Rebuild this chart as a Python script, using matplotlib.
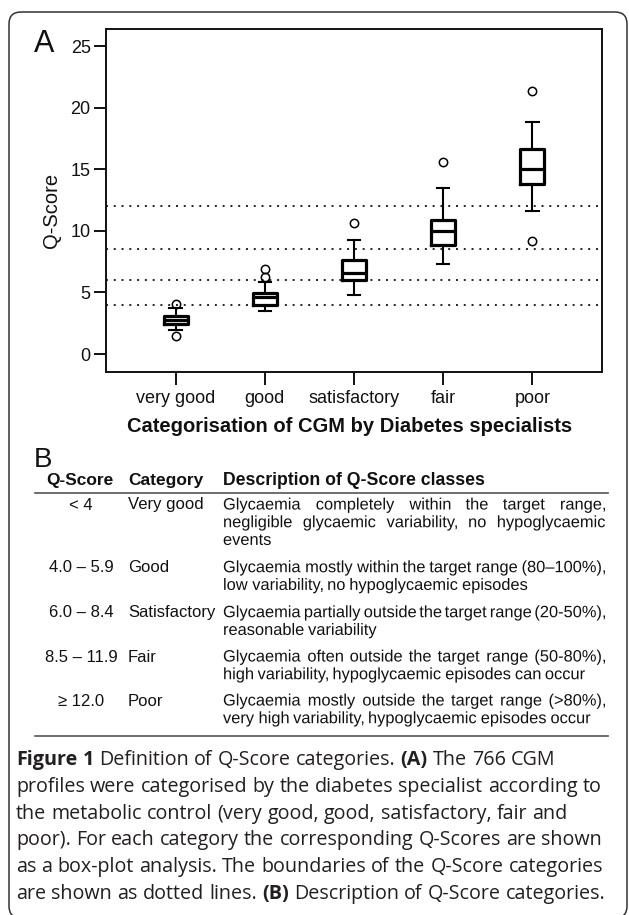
import matplotlib
matplotlib.use('Agg')
import matplotlib.pyplot as plt
from matplotlib.patches import FancyBboxPatch, PathPatch
from matplotlib.lines import Line2D
from matplotlib.transforms import IdentityTransform, Affine2D
from matplotlib.textpath import TextPath
from matplotlib.font_manager import FontProperties

# ---- data ----
categories = ['very good', 'good', 'satisfactory', 'fair', 'poor']
q1 = [2.43, 4.0, 6.0, 8.86, 13.84]
medians = [2.78, 4.6, 6.62, 10.0, 15.0]
q3 = [3.1, 4.95, 7.67, 10.87, 16.65]
whis_lo = [1.92, 3.51, 4.81, 7.35, 11.6]
whis_hi = [3.73, 5.81, 9.3, 13.49, 18.87]
outliers = [[1.48, 4.08], [6.24, 6.9], [10.62], [15.6], [9.2, 21.4]]
boundaries = [4.0, 6.0, 8.5, 12.0]
yticks = [0, 5, 10, 15, 20, 25]

table_header = ['Q-Score', 'Category', 'Description of Q-Score classes']
q_ranges = ['< 4', '4.0 \u2013 5.9', '6.0 \u2013 8.4', '8.5 \u2013 11.9', '\u2265 12.0']
class_names = ['Very good', 'Good', 'Satisfactory', 'Fair', 'Poor']
descriptions = [
    ['Glycaemia completely within the target range,',
     'negligible glycaemic variability, no hypoglycaemic',
     'events'],
    ['Glycaemia mostly within the target range (80\u2013100%),',
     'low variability, no hypoglycaemic episodes'],
    ['Glycaemia partially outside the target range (20-50%),',
     'reasonable variability'],
    ['Glycaemia often outside the target range (50-80%),',
     'high variability, hypoglycaemic episodes can occur'],
    ['Glycaemia mostly outside the target range (>80%),',
     'very high variability, hypoglycaemic episodes occur'],
]

caption = [
    '**Figure 1** Definition of Q-Score categories. **(A)** The 766 CGM',
    'profiles were categorised by the diabetes specialist according to',
    'the metabolic control (very good, good, satisfactory, fair and',
    'poor). For each category the corresponding Q-Scores are shown',
    'as a box-plot analysis. The boundaries of the Q-Score categories',
    'are shown as dotted lines. **(B)** Description of Q-Score categories.',
]

W, H = 629, 915
plt.rcParams['font.family'] = ['Liberation Sans', 'DejaVu Sans']
fig = plt.figure(figsize=(W / 100, H / 100), dpi=100, facecolor='white')
renderer = fig.canvas.get_renderer()
INK = '#111111'
CAP_FONT = ['Open Sans', 'DejaVu Sans']
TABLE_PROP = FontProperties(family='Liberation Sans')


def fx(x):
    return x / W


def fy(y):
    return 1 - y / H


def text_width(t):
    return t.get_window_extent(renderer=renderer).width


def measure(s, size, family, weight='normal'):
    t = fig.text(0, 0, s, fontsize=size, family=family, fontweight=weight)
    w = text_width(t)
    t.remove()
    return w


def path_width(s, size_px):
    return TextPath((0, 0), s, size=size_px, prop=TABLE_PROP).get_extents().x1


def place_words(words, x0, y, size, family, color=INK):
    # ragged-right line of (word, bold) pieces
    texts = []
    for w, bold in words:
        t = fig.text(fx(x0), fy(y), w, fontsize=size, family=family,
                     fontweight='bold' if bold else 'normal',
                     ha='left', va='baseline', color=color)
        texts.append(t)
    widths = [text_width(t) for t in texts]
    space = measure('a a', size, family) - measure('aa', size, family)
    x = x0
    for t, w in zip(texts, widths):
        t.set_x(fx(x))
        x += w + space


def path_line(line, x0, y, size_px, x1=None):
    # words drawn as glyph paths so a justified line keeps one baseline
    words = line.split()
    paths = [TextPath((0, 0), w, size=size_px, prop=TABLE_PROP) for w in words]
    widths = [p.get_extents().x1 for p in paths]
    gap = path_width('a a', size_px) - path_width('aa', size_px)
    if x1 is not None and len(words) > 1:
        gap = (x1 - x0 - sum(widths)) / (len(words) - 1)
    x = x0
    for p, w in zip(paths, widths):
        patch = PathPatch(p, transform=Affine2D().translate(x, H - y),
                          facecolor=INK, edgecolor='none', linewidth=0)
        fig.add_artist(patch)
        x += w + gap


def parse_bold(line):
    out = []
    for i, seg in enumerate(line.split('**')):
        for w in seg.split():
            out.append((w, i % 2 == 1))
    return out


# ---- card frame ----
frame = FancyBboxPatch((9, H - 918), 618, 906,
                       boxstyle='round,pad=0,rounding_size=12',
                       transform=IdentityTransform(), facecolor='none',
                       edgecolor='#333333', linewidth=1.1)
fig.add_artist(frame)

# ---- panel A: box plot ----
ax = fig.add_axes([fx(106), fy(372), fx(602) - fx(106), fy(29) - fy(372)])
stats = []
for c, a, m, b, lo, hi, fl in zip(categories, q1, medians, q3, whis_lo, whis_hi, outliers):
    stats.append(dict(label=c, q1=a, med=m, q3=b, whislo=lo, whishi=hi, fliers=fl))

ax.bxp(stats, positions=range(1, len(categories) + 1), widths=0.27, capwidths=0.14,
       boxprops=dict(linewidth=2.3, color='black'),
       medianprops=dict(linewidth=2.3, color='black'),
       whiskerprops=dict(linewidth=1.5, color='black'),
       capprops=dict(linewidth=1.5, color='black'),
       flierprops=dict(marker='o', markerfacecolor='none', markeredgecolor='black',
                       markersize=6, markeredgewidth=1.1))

for b in boundaries:
    ax.axhline(b, color='#222222', linewidth=1.4, linestyle=(0, (1, 3)), zorder=0)

ax.set_xlim(0.22, 5.78)
ax.set_ylim(-1.46, 26.4)
ax.set_yticks(yticks)
ax.tick_params(axis='both', length=9, width=1.4, labelsize=13, colors=INK)
ax.tick_params(axis='y', pad=2)
ax.tick_params(axis='x', pad=4)
for s in ax.spines.values():
    s.set_linewidth(1.4)
    s.set_color('#111111')

fig.text(fx(52), fy(210), 'Q-Score', rotation=90, fontsize=14.5,
         ha='center', va='center', color=INK)
fig.text(fx(350), fy(427), 'Categorisation of CGM by Diabetes specialists',
         fontsize=14.5, fontweight='bold', ha='center', va='center', color=INK)
fig.text(fx(34), fy(52), 'A', fontsize=22, ha='left', va='baseline', color=INK)

# ---- panel B: table ----
fig.text(fx(34), fy(467), 'B', fontsize=20, ha='left', va='baseline', color=INK)
hdr_y = 485
fig.text(fx(80), fy(hdr_y), table_header[0], fontsize=12.5, fontweight='bold',
         ha='center', va='baseline', color=INK)
fig.text(fx(128), fy(hdr_y), table_header[1], fontsize=12.5, fontweight='bold',
         ha='left', va='baseline', color=INK)
fig.text(fx(223), fy(hdr_y), table_header[2], fontsize=12.7, fontweight='bold',
         ha='left', va='baseline', color=INK)

fig.add_artist(Line2D([fx(35), fx(608)], [fy(492.7)] * 2, transform=fig.transFigure,
                      color='#555555', linewidth=1.2))
fig.add_artist(Line2D([fx(35), fx(608)], [fy(735.5)] * 2, transform=fig.transFigure,
                      color='#555555', linewidth=1.2))

# description font sized so the longest natural line spans the column (223..605)
desc_x0, desc_x1 = 223, 605
ref_words = descriptions[1][0].split()
ref_w = sum(path_width(w, 16.0) for w in ref_words) + \
    (len(ref_words) - 1) * (path_width('a a', 16.0) - path_width('aa', 16.0))
desc_px = 16.0 * (desc_x1 - desc_x0) / ref_w

row_y = [509.5, 572.2, 617.2, 661.5, 705.5]
line_step = 17.7
for qr, cn, desc, y in zip(q_ranges, class_names, descriptions, row_y):
    fig.text(fx(81), fy(y), qr, fontsize=12.0, ha='center', va='baseline', color=INK)
    fig.text(fx(128), fy(y), cn, fontsize=12.0, ha='left', va='baseline', color=INK)
    for k, line in enumerate(desc):
        last = k == len(desc) - 1
        path_line(line, desc_x0, y + k * line_step, desc_px,
                  x1=None if last else desc_x1)

# ---- caption ----
cap_x0 = 16
cap_size = 12.8 * 588 / measure(caption[4], 12.8, CAP_FONT)
cap_y0 = 765
cap_step = 26.8
for i, line in enumerate(caption):
    place_words(parse_bold(line), cap_x0, cap_y0 + i * cap_step, cap_size,
                CAP_FONT, color='#231f20')

fig.savefig('out.png', dpi=100, facecolor='white')
